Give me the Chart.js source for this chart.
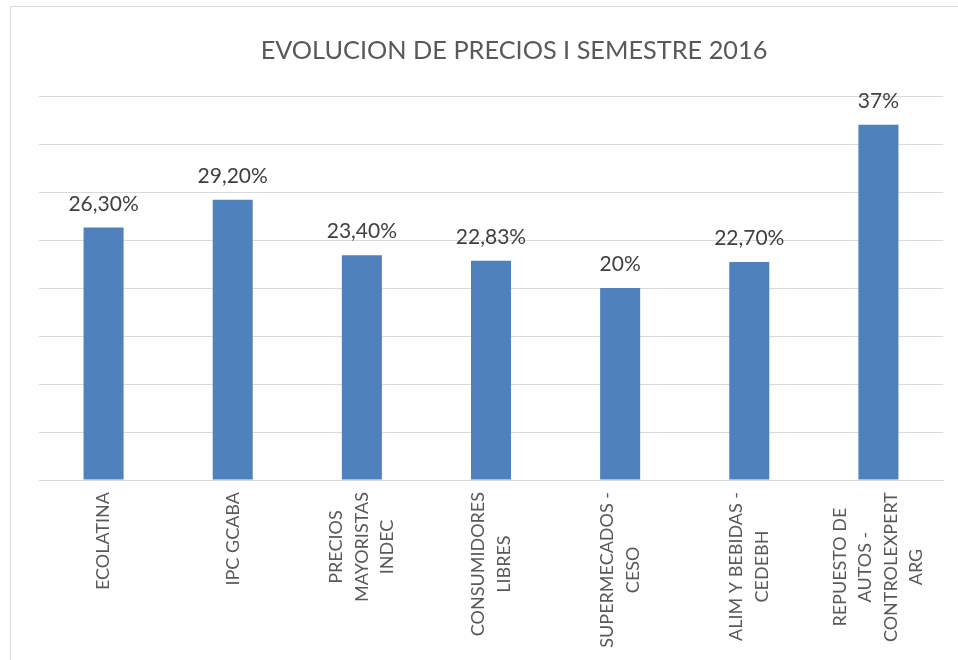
<!DOCTYPE html>
<html>
<head>
<meta charset="utf-8">
<script src="https://cdn.jsdelivr.net/npm/chart.js@4/dist/chart.umd.min.js"></script>
<style>
  html, body { margin: 0; padding: 0; background: #fff; overflow: hidden; }
  #frame {
    position: absolute; left: 10px; top: 6px;
    width: 1000px; height: 700px;
    border-left: 1px solid #d9d9d9; border-top: 1px solid #d9d9d9;
  }
  #wrap { position: absolute; left: 0; top: 0; width: 947px; height: 660px; }
</style>
</head>
<body>
<div id="frame"><div id="wrap"><canvas id="myChart"></canvas></div></div>
<script>
var chartTitle = "EVOLUCION DE PRECIOS I SEMESTRE 2016";
var categories = [
  ["ECOLATINA"],
  ["IPC GCABA"],
  ["PRECIOS", "MAYORISTAS", "INDEC"],
  ["CONSUMIDORES", "LIBRES"],
  ["SUPERMECADOS -", "CESO"],
  ["ALIM Y BEBIDAS -", "CEDEBH"],
  ["REPUESTO DE", "AUTOS -", "CONTROLEXPERT", "ARG"]
];
var values = [26.3, 29.2, 23.4, 22.83, 20, 22.7, 37];
var valueLabels = ["26,30%", "29,20%", "23,40%", "22,83%", "20%", "22,70%", "37%"];

var FONT = "Lato, 'Open Sans', sans-serif";

// title, value labels and centred multi-line rotated category labels
var textPlugin = {
  id: "textPlugin",
  afterDraw: function (chart) {
    var ctx = chart.ctx;
    var meta = chart.getDatasetMeta(0);
    var xs = chart.scales.x;
    ctx.save();

    ctx.fillStyle = "#595959";
    ctx.font = "25.3px " + FONT;
    ctx.textAlign = "center";
    ctx.textBaseline = "middle";
    ctx.fillText(chartTitle, 503, 44);

    ctx.fillStyle = "#404040";
    ctx.font = "21px " + FONT;
    ctx.textBaseline = "alphabetic";
    meta.data.forEach(function (bar, i) {
      ctx.fillText(valueLabels[i], bar.x, bar.y - 17);
    });

    ctx.fillStyle = "#595959";
    ctx.font = "18px " + FONT;
    ctx.textBaseline = "middle";
    var lineH = 25.5;
    categories.forEach(function (lines, i) {
      var x = xs.getPixelForTick(i);
      var maxW = 0;
      lines.forEach(function (l) { maxW = Math.max(maxW, ctx.measureText(l).width); });
      ctx.save();
      ctx.translate(x, chart.chartArea.bottom + 12 + maxW / 2);
      ctx.rotate(-Math.PI / 2);
      lines.forEach(function (l, j) {
        ctx.fillText(l, 0, (j - (lines.length - 1) / 2) * lineH);
      });
      ctx.restore();
    });
    ctx.restore();
  }
};

var config = {
  type: "bar",
  data: {
    labels: categories,
    datasets: [{
      data: values,
      backgroundColor: "#4f81bd",
      borderWidth: 0,
      barPercentage: 0.31,
      categoryPercentage: 1
    }]
  },
  options: {
    responsive: true,
    maintainAspectRatio: false,
    animation: false,
    layout: { padding: { left: 28, right: 15, top: 89, bottom: 179 } },
    plugins: { legend: { display: false }, title: { display: false }, tooltip: { enabled: false } },
    scales: {
      x: {
        grid: { display: false },
        border: { display: true, color: "#d9d9d9", width: 1 },
        ticks: { display: false }
      },
      y: {
        min: 0,
        max: 40,
        ticks: { display: false, stepSize: 5 },
        grid: { color: "#d9d9d9", drawTicks: false },
        border: { display: false }
      }
    }
  },
  plugins: [textPlugin]
};

var myChart = new Chart(document.getElementById("myChart"), config);
</script>
</body>
</html>
